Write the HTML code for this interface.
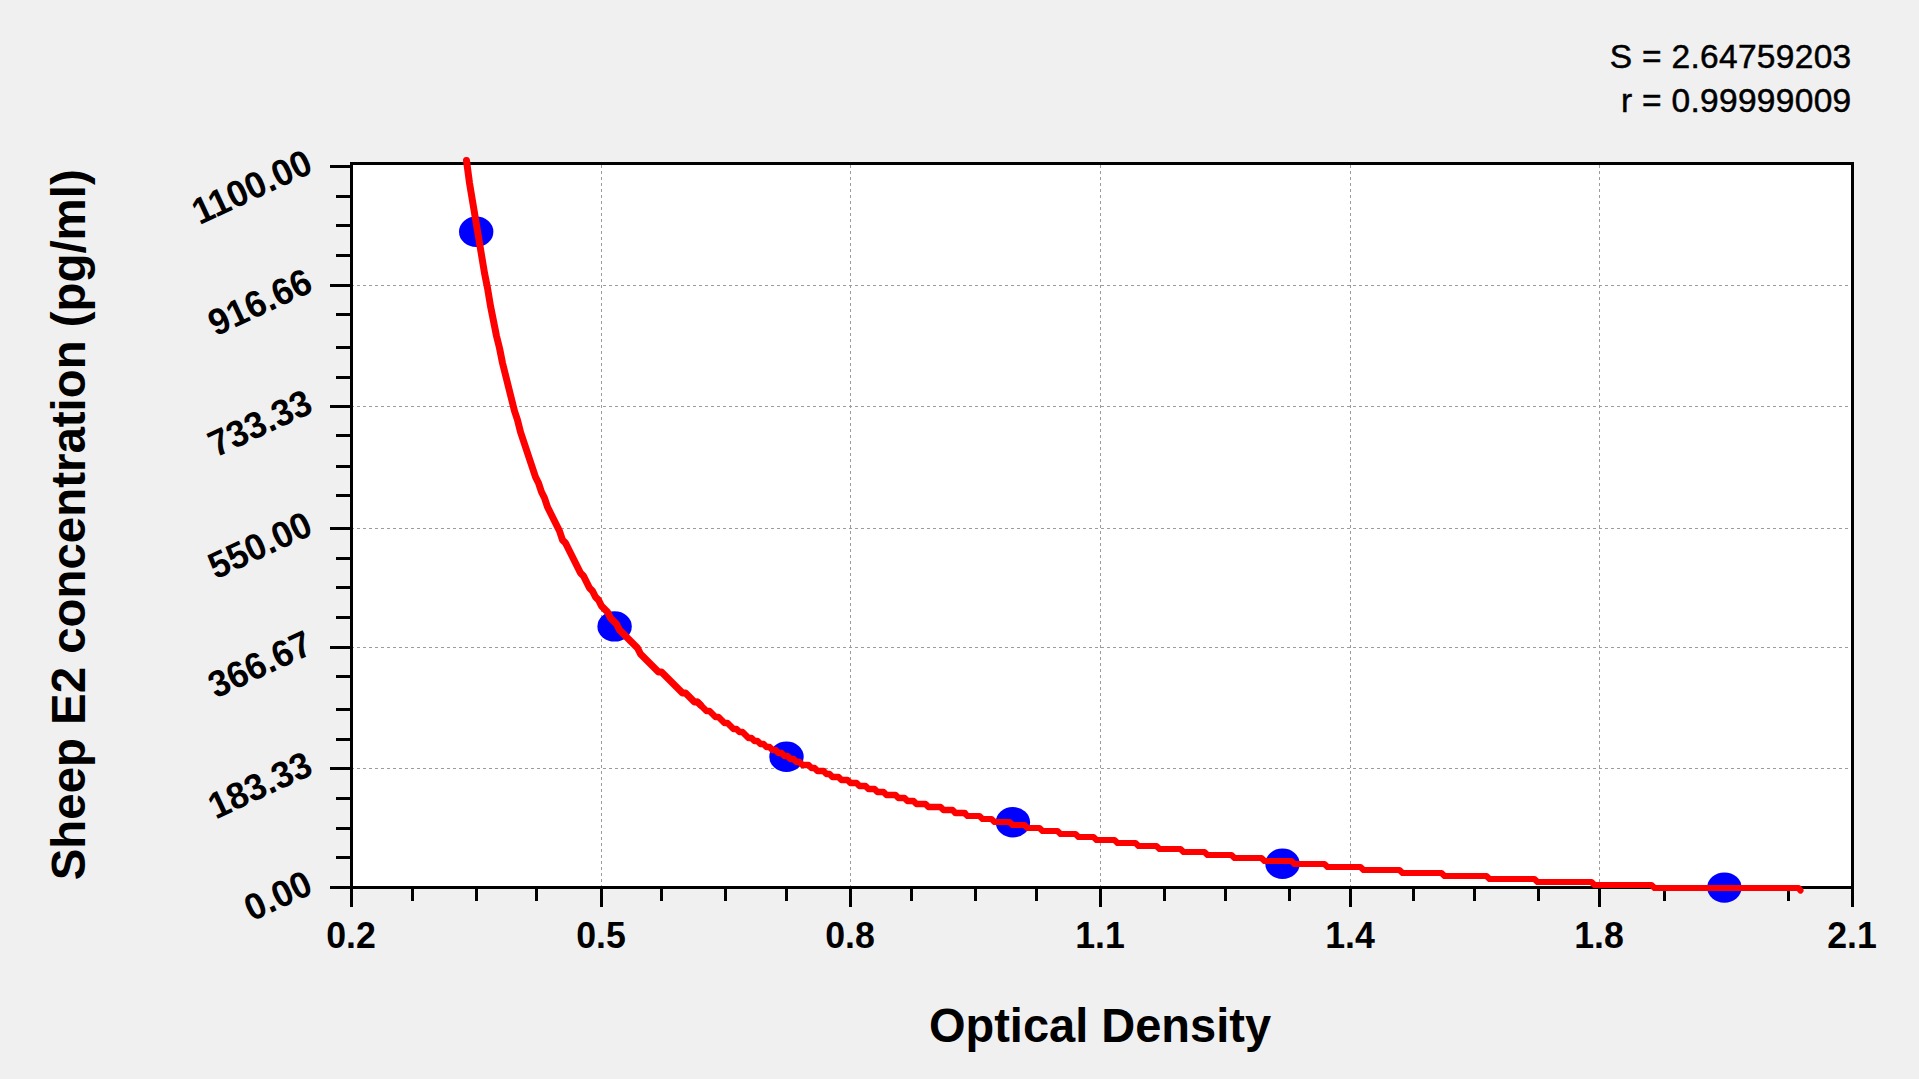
<!DOCTYPE html>
<html lang="en">
<head>
<meta charset="utf-8">
<title>Sheep E2 concentration standard curve</title>
<style>
html,body{margin:0;padding:0;background:#f0f0f0;overflow:hidden;}
svg{display:block;}
text{font-family:"Liberation Sans",Arial,Helvetica,sans-serif;fill:#000;}
.b{font-weight:bold;}
</style>
</head>
<body>
<svg width="1919" height="1079" viewBox="0 0 1919 1079">
<rect x="0" y="0" width="1919" height="1079" fill="#f0f0f0"/>
<rect x="351.5" y="163.5" width="1501" height="724" fill="#fff"/>
<g stroke="#9c9c9c" stroke-width="1" stroke-dasharray="3 3" shape-rendering="crispEdges" fill="none">
<line x1="601.5" y1="165" x2="601.5" y2="886.5"/>
<line x1="850.5" y1="165" x2="850.5" y2="886.5"/>
<line x1="1100.5" y1="165" x2="1100.5" y2="886.5"/>
<line x1="1350.5" y1="165" x2="1350.5" y2="886.5"/>
<line x1="1599.5" y1="165" x2="1599.5" y2="886.5"/>
<line x1="351" y1="285.5" x2="1851.5" y2="285.5"/>
<line x1="351" y1="406.5" x2="1851.5" y2="406.5"/>
<line x1="351" y1="528.5" x2="1851.5" y2="528.5"/>
<line x1="351" y1="647.5" x2="1851.5" y2="647.5"/>
<line x1="351" y1="768.5" x2="1851.5" y2="768.5"/>
</g>
<g stroke="#000" stroke-width="3" shape-rendering="crispEdges" fill="none">
<rect x="351.5" y="163.5" width="1501" height="724"/>
<line x1="330" y1="166.5" x2="350" y2="166.5"/>
<line x1="330" y1="285.5" x2="350" y2="285.5"/>
<line x1="330" y1="406.5" x2="350" y2="406.5"/>
<line x1="330" y1="528.5" x2="350" y2="528.5"/>
<line x1="330" y1="647.5" x2="350" y2="647.5"/>
<line x1="330" y1="768.5" x2="350" y2="768.5"/>
<line x1="330" y1="887.5" x2="350" y2="887.5"/>
<line x1="336" y1="196.5" x2="350" y2="196.5"/>
<line x1="336" y1="225.5" x2="350" y2="225.5"/>
<line x1="336" y1="255.5" x2="350" y2="255.5"/>
<line x1="336" y1="314.5" x2="350" y2="314.5"/>
<line x1="336" y1="347.5" x2="350" y2="347.5"/>
<line x1="336" y1="377.5" x2="350" y2="377.5"/>
<line x1="336" y1="435.5" x2="350" y2="435.5"/>
<line x1="336" y1="466.5" x2="350" y2="466.5"/>
<line x1="336" y1="495.5" x2="350" y2="495.5"/>
<line x1="336" y1="558.5" x2="350" y2="558.5"/>
<line x1="336" y1="587.5" x2="350" y2="587.5"/>
<line x1="336" y1="617.5" x2="350" y2="617.5"/>
<line x1="336" y1="676.5" x2="350" y2="676.5"/>
<line x1="336" y1="709.5" x2="350" y2="709.5"/>
<line x1="336" y1="739.5" x2="350" y2="739.5"/>
<line x1="336" y1="798.5" x2="350" y2="798.5"/>
<line x1="336" y1="828.5" x2="350" y2="828.5"/>
<line x1="336" y1="857.5" x2="350" y2="857.5"/>
<line x1="351.5" y1="889" x2="351.5" y2="907"/>
<line x1="601.5" y1="889" x2="601.5" y2="907"/>
<line x1="850.5" y1="889" x2="850.5" y2="907"/>
<line x1="1100.5" y1="889" x2="1100.5" y2="907"/>
<line x1="1350.5" y1="889" x2="1350.5" y2="907"/>
<line x1="1599.5" y1="889" x2="1599.5" y2="907"/>
<line x1="1852.5" y1="889" x2="1852.5" y2="907"/>
<line x1="412.5" y1="889" x2="412.5" y2="901"/>
<line x1="476.5" y1="889" x2="476.5" y2="901"/>
<line x1="536.5" y1="889" x2="536.5" y2="901"/>
<line x1="661.5" y1="889" x2="661.5" y2="901"/>
<line x1="725.5" y1="889" x2="725.5" y2="901"/>
<line x1="786.5" y1="889" x2="786.5" y2="901"/>
<line x1="911.5" y1="889" x2="911.5" y2="901"/>
<line x1="975.5" y1="889" x2="975.5" y2="901"/>
<line x1="1036.5" y1="889" x2="1036.5" y2="901"/>
<line x1="1164.5" y1="889" x2="1164.5" y2="901"/>
<line x1="1225.5" y1="889" x2="1225.5" y2="901"/>
<line x1="1289.5" y1="889" x2="1289.5" y2="901"/>
<line x1="1413.5" y1="889" x2="1413.5" y2="901"/>
<line x1="1474.5" y1="889" x2="1474.5" y2="901"/>
<line x1="1538.5" y1="889" x2="1538.5" y2="901"/>
<line x1="1664.5" y1="889" x2="1664.5" y2="901"/>
<line x1="1724.5" y1="889" x2="1724.5" y2="901"/>
<line x1="1788.5" y1="889" x2="1788.5" y2="901"/>
</g>
<g class="b" font-size="35.7">
<text text-anchor="end" transform="translate(314.7 171.5) rotate(-25) scale(1 1.04)">1100.00</text>
<text text-anchor="end" transform="translate(314.7 290.5) rotate(-25) scale(1 1.04)">916.66</text>
<text text-anchor="end" transform="translate(314.7 411.5) rotate(-25) scale(1 1.04)">733.33</text>
<text text-anchor="end" transform="translate(314.7 533.5) rotate(-25) scale(1 1.04)">550.00</text>
<text text-anchor="end" transform="translate(314.7 652.5) rotate(-25) scale(1 1.04)">366.67</text>
<text text-anchor="end" transform="translate(314.7 773.5) rotate(-25) scale(1 1.04)">183.33</text>
<text text-anchor="end" transform="translate(314.7 892.5) rotate(-25) scale(1 1.04)">0.00</text>
<text text-anchor="middle" transform="translate(351 948) scale(1 1.04)">0.2</text>
<text text-anchor="middle" transform="translate(601 948) scale(1 1.04)">0.5</text>
<text text-anchor="middle" transform="translate(850 948) scale(1 1.04)">0.8</text>
<text text-anchor="middle" transform="translate(1100 948) scale(1 1.04)">1.1</text>
<text text-anchor="middle" transform="translate(1350 948) scale(1 1.04)">1.4</text>
<text text-anchor="middle" transform="translate(1599 948) scale(1 1.04)">1.8</text>
<text text-anchor="middle" transform="translate(1852 948) scale(1 1.04)">2.1</text>
</g>
<text class="b" font-size="47" text-anchor="middle" transform="translate(1100 1042) scale(1 1.03)">Optical Density</text>
<text class="b" font-size="47.4" text-anchor="middle" transform="translate(85 524.8) rotate(-90) scale(1 1)">Sheep E2 concentration (pg/ml)</text>
<g font-size="33.5" letter-spacing="0.3" text-anchor="end" stroke="#000" stroke-width="0.5">
<text transform="translate(1851.5 67.7) scale(1 1)">S = 2.64759203</text>
<text transform="translate(1851.5 111.6) scale(1 1)">r = 0.99999009</text>
</g>
<g fill="#0000ff">
<ellipse cx="476.2" cy="231.8" rx="17.2" ry="15.2"/>
<ellipse cx="614.6" cy="626.4" rx="17.2" ry="15.2"/>
<ellipse cx="786.5" cy="756.8" rx="17.2" ry="15.2"/>
<ellipse cx="1012.9" cy="822.3" rx="17.2" ry="15.2"/>
<ellipse cx="1282.5" cy="863.8" rx="17.2" ry="15.2"/>
<ellipse cx="1724.4" cy="887.6" rx="17.2" ry="15.2"/>
</g>
<g fill="none" stroke="#ff0000" stroke-linecap="round" stroke-linejoin="round">
<path d="M466.5,160.5 L469.5,183 L472.5,201 L475.5,219 L478.5,237 L481.5,255 L484.5,273 L487.5,288 L490.5,306 L493.5,321 L496.5,336 L499.5,348 L502.5,363 L505.5,375 L508.5,387 L511.5,399 L514.5,411 L517.5,420 L520.5,432 L523.5,441 L526.5,450 L529.5,459 L532.5,468 L535.5,477 L538.5,483 L541.5,492 L544.5,498 L547.5,507 L550.5,513 L553.5,519 L556.5,525 L559.5,531 L562.5,540 L565.5,543 L568.5,549 L571.5,555 L574.5,561 L577.5,567 L580.5,573 L583.5,576 L586.5,582 L589.5,588 L592.5,591 L595.5,597 L598.5,600 L601.5,606 L604.5,609 L607.5,612 L610.5,618 L613.5,621 L616.5,624 L619.5,630 L622.5,633 L625.5,636 L628.5,639 L631.5,642 L634.5,645 L637.5,648 L640.5,654 L643.5,657 L646.5,660 L649.5,663 L652.5,666 L655.5,669 L658.5,672 L661.5,672 L664.5,675 L667.5,678 L670.5,681 L673.5,684 L676.5,687 L679.5,690 L682.5,693 L685.5,693 L688.5,696 L691.5,699 L694.5,702 L697.5,702 L700.5,705" stroke-width="7"/>
<path d="M697.5,702 L700.5,705 L703.5,708 L706.5,711 L709.5,711 L712.5,714 L715.5,717 L718.5,717 L721.5,720 L724.5,723 L727.5,723 L730.5,726 L733.5,729 L736.5,729 L739.5,732 L742.5,732 L745.5,735 L748.5,738 L751.5,738 L754.5,741 L757.5,741 L760.5,744 L763.5,744 L766.5,747 L769.5,747 L772.5,750 L775.5,750 L778.5,753 L781.5,753 L784.5,756 L787.5,756 L790.5,759 L793.5,759 L796.5,762 L799.5,762 L802.5,765 L808.5,765 L811.5,768 L814.5,768 L817.5,771 L823.5,771 L826.5,774 L829.5,774 L832.5,777 L838.5,777 L841.5,780 L847.5,780 L850.5,783 L856.5,783 L859.5,786 L865.5,786 L868.5,789 L874.5,789 L877.5,792 L883.5,792 L886.5,795 L895.5,795 L898.5,798 L904.5,798 L907.5,801 L913.5,801 L916.5,804 L925.5,804 L928.5,807 L940.5,807 L943.5,810 L952.5,810 L955.5,813 L964.5,813" stroke-width="6.5"/>
<path d="M955.5,813 L964.5,813 L967.5,816 L979.5,816 L982.5,819 L991.5,819 L994.5,822 L1009.5,822 L1012.5,825 L1024.5,825 L1027.5,828 L1039.5,828 L1042.5,831 L1057.5,831 L1060.5,834 L1075.5,834 L1078.5,837 L1093.5,837 L1096.5,840 L1114.5,840 L1117.5,843 L1135.5,843 L1138.5,846 L1156.5,846 L1159.5,849 L1180.5,849 L1183.5,852 L1204.5,852 L1207.5,855 L1231.5,855 L1234.5,858 L1261.5,858 L1264.5,861 L1291.5,861 L1294.5,864 L1324.5,864 L1327.5,867 L1360.5,867 L1363.5,870 L1399.5,870 L1402.5,873 L1441.5,873 L1444.5,876 L1486.5,876 L1489.5,879 L1534.5,879 L1537.5,882 L1591.5,882 L1594.5,885 L1651.5,885 L1654.5,888 L1798.5,888 L1800.5,890.5" stroke-width="6.1"/>
</g>
</svg>
</body>
</html>
